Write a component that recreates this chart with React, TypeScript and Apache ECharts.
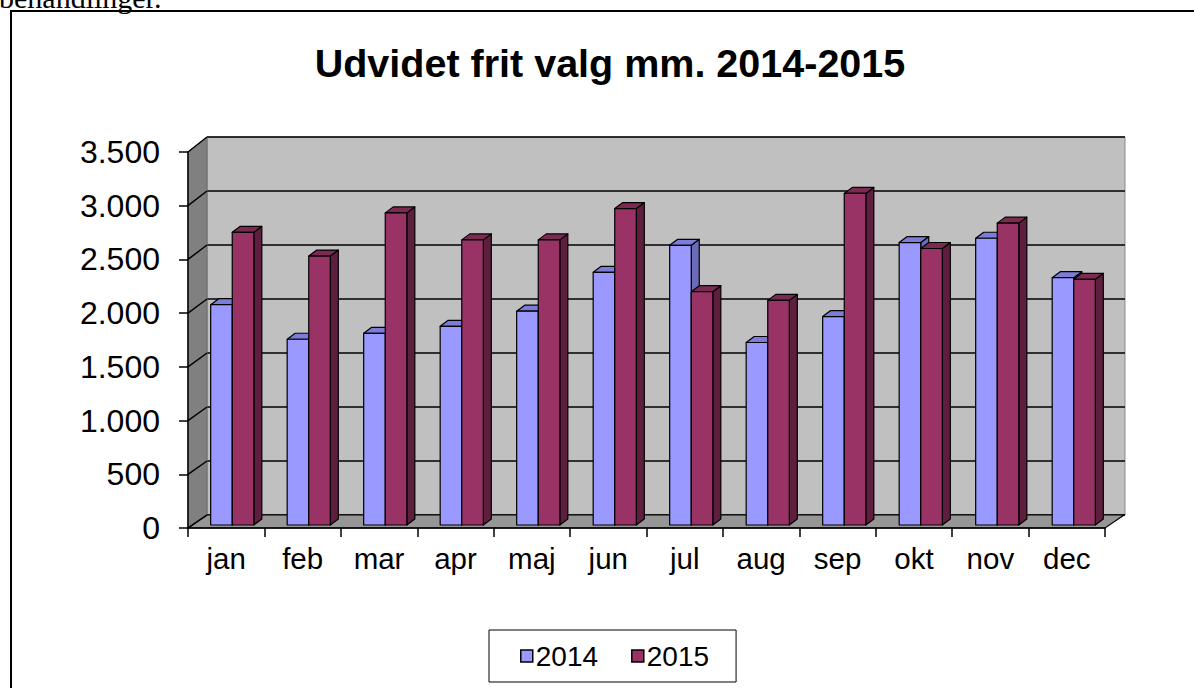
import React, { useEffect, useRef } from "react";
import * as echarts from "echarts";

const months = ["jan", "feb", "mar", "apr", "maj", "jun", "jul", "aug", "sep", "okt", "nov", "dec"];
const v2014 = [2040, 1720, 1775, 1840, 1980, 2340, 2590, 1690, 1930, 2615, 2655, 2290];
const v2015 = [2710, 2490, 2890, 2640, 2640, 2930, 2160, 2080, 3070, 2560, 2795, 2275];
const seriesNames = ["2014", "2015"];
const Y_MAX = 3500;
const Y_STEP = 500;

const FONT = "'Liberation Sans', Arial, sans-serif";
const FRONT = { left: 188, right: 89, top: 152, bottom: 160 };
const BACK = { left: 207, right: 69, top: 137, bottom: 173 };
const PAL = [
  { front: "#9999FF", top: "#7C7CD9", side: "#6B6BB8" },
  { front: "#993366", top: "#7D2A53", side: "#5E1F3F" },
];
const BAR_PX = -13; // bar plane offset relative to back wall
const BAR_PY = 10;
const DX = 8;
const DY = -6;

function fmt(v: number) {
  if (v >= 1000) return Math.floor(v / 1000) + "." + String(v % 1000).padStart(3, "0");
  return String(v);
}

export default function App() {
  const ref = useRef<HTMLDivElement>(null);
  useEffect(() => {
    const chart = echarts.init(ref.current!, null, { renderer: "svg" });

    const wallsRender = (params: any, api: any) => {
      const band = api.size([1, 0])[0];
      const p0 = api.coord([0, 0]);
      const pN = api.coord([months.length - 1, 0]);
      const xl = p0[0] - band / 2;
      const xr = pN[0] + band / 2;
      const H = api.getHeight();
      const backY = (v: number) => BACK.top + (H - BACK.top - BACK.bottom) * (1 - v / Y_MAX);
      const frontY = (v: number) => api.coord([0, v])[1];
      const wdx = BACK.left - FRONT.left;
      const children: any[] = [];
      children.push({
        type: "polygon",
        shape: { points: [[xl, frontY(Y_MAX)], [xl + wdx, backY(Y_MAX)], [xl + wdx, backY(0)], [xl, frontY(0)]] },
        style: { fill: "#808080", stroke: "#6a6a6a", lineWidth: 1 },
      });
      children.push({
        type: "polygon",
        shape: { points: [[xl, frontY(0)], [xr, frontY(0)], [xr + wdx, backY(0)], [xl + wdx, backY(0)]] },
        style: { fill: "#969696", stroke: "#000", lineWidth: 1.2 },
      });
      for (let v = 0; v <= Y_MAX; v += Y_STEP) {
        children.push({
          type: "line",
          shape: { x1: xl, y1: frontY(v), x2: xl + wdx, y2: backY(v) },
          style: { stroke: "#000", lineWidth: 1.5 },
        });
      }
      return { type: "group", children };
    };

    const barRender = (s: number) => (params: any, api: any) => {
      const i = api.value(0);
      const v = api.value(1);
      const c = api.coord([i, v]);
      const b = api.coord([i, 0]);
      const band = api.size([1, 0])[0];
      const bw = band * 0.282;
      const x0 = c[0] + BAR_PX + (s === 0 ? -bw : 0);
      const yt = c[1] + BAR_PY;
      const yb = b[1] + BAR_PY;
      const col = PAL[s];
      const st = { stroke: "#000", lineWidth: 1.2, lineJoin: "round" };
      return {
        type: "group",
        children: [
          {
            type: "polygon",
            shape: { points: [[x0 + bw, yt], [x0 + bw + DX, yt + DY], [x0 + bw + DX, yb + DY], [x0 + bw, yb]] },
            style: { fill: col.side, ...st },
          },
          {
            type: "polygon",
            shape: { points: [[x0, yt], [x0 + bw, yt], [x0 + bw + DX, yt + DY], [x0 + DX, yt + DY]] },
            style: { fill: col.top, ...st },
          },
          {
            type: "rect",
            shape: { x: x0, y: yt, width: bw, height: yb - yt },
            style: { fill: col.front, ...st },
          },
        ],
      };
    };

    chart.setOption({
      animation: false,
      backgroundColor: "#fff",
      textStyle: { fontFamily: FONT },
      graphic: [
        {
          type: "text",
          x: -1,
          y: 12,
          style: { text: "behandlinger.", fontSize: 30, fontFamily: "'Liberation Serif', serif", fill: "#000", verticalAlign: "bottom" },
        },
        {
          type: "rect",
          z: 100,
          shape: { x: 11, y: 11, width: 1400, height: 900 },
          style: { fill: "none", stroke: "#000", lineWidth: 2 },
        },
        {
          type: "text",
          x: 610,
          y: 63,
          style: {
            text: "Udvidet frit valg mm. 2014-2015",
            fontSize: 39.5,
            fontWeight: "bold",
            fontFamily: FONT,
            fill: "#000",
            align: "center",
            verticalAlign: "middle",
          },
        },
      ],
      legend: {
        left: 489,
        top: 630,
        orient: "horizontal",
        padding: [12, 27, 12, 31],
        itemGap: 33,
        itemWidth: 12,
        itemHeight: 12,
        borderColor: "#000",
        borderWidth: 1,
        textStyle: { fontSize: 28, fontFamily: FONT, color: "#000", padding: [0, 0, 0, -2] },
        data: seriesNames.map((n, k) => ({
          name: n,
          icon: "rect",
          itemStyle: { color: PAL[k].front, borderColor: "#000", borderWidth: 1.5 },
        })),
      },
      grid: [
        { ...FRONT, containLabel: false },
        { ...BACK, show: true, backgroundColor: "#C0C0C0", borderColor: "#8a8a8a", borderWidth: 1 },
      ],
      xAxis: [
        {
          type: "category",
          gridIndex: 0,
          data: months,
          boundaryGap: true,
          z: 5,
          axisLine: { lineStyle: { color: "#000", width: 1.5 } },
          axisTick: { show: true, length: 9, lineStyle: { color: "#000", width: 1.5 } },
          axisLabel: { fontSize: 29.5, color: "#000", fontFamily: FONT, margin: 15 },
          splitLine: { show: false },
        },
        {
          type: "category",
          gridIndex: 1,
          data: months,
          boundaryGap: true,
          axisLine: { show: false },
          axisTick: { show: false },
          axisLabel: { show: false },
          splitLine: { show: false },
        },
      ],
      yAxis: [
        {
          type: "value",
          gridIndex: 0,
          min: 0,
          max: Y_MAX,
          interval: Y_STEP,
          z: 5,
          axisLine: { show: true, lineStyle: { color: "#000", width: 1.5 } },
          axisTick: { show: true, length: 9, lineStyle: { color: "#000", width: 1.5 } },
          axisLabel: { fontSize: 32, color: "#000", fontFamily: FONT, margin: 28, formatter: (v: number) => fmt(v) },
          splitLine: { show: false },
        },
        {
          type: "value",
          gridIndex: 1,
          min: 0,
          max: Y_MAX,
          interval: Y_STEP,
          axisLine: { show: false },
          axisTick: { show: false },
          axisLabel: { show: false },
          splitLine: { show: true, lineStyle: { color: "#000", width: 1.5 } },
        },
      ],
      series: [
        {
          type: "custom",
          name: "walls",
          xAxisIndex: 0,
          yAxisIndex: 0,
          z: 1,
          silent: true,
          renderItem: wallsRender,
          data: [[0, 0]],
        },
        ...[v2014, v2015].map((arr, s) => ({
          type: "custom",
          name: seriesNames[s],
          xAxisIndex: 1,
          yAxisIndex: 1,
          z: 2,
          itemStyle: { color: PAL[s].front },
          renderItem: barRender(s),
          data: arr.map((v, i) => [i, v]),
        })),
      ],
    });
    return () => chart.dispose();
  }, []);
  return <div ref={ref} style={{ position: "fixed", left: 0, top: 0, width: 1194, height: 688 }} />;
}
